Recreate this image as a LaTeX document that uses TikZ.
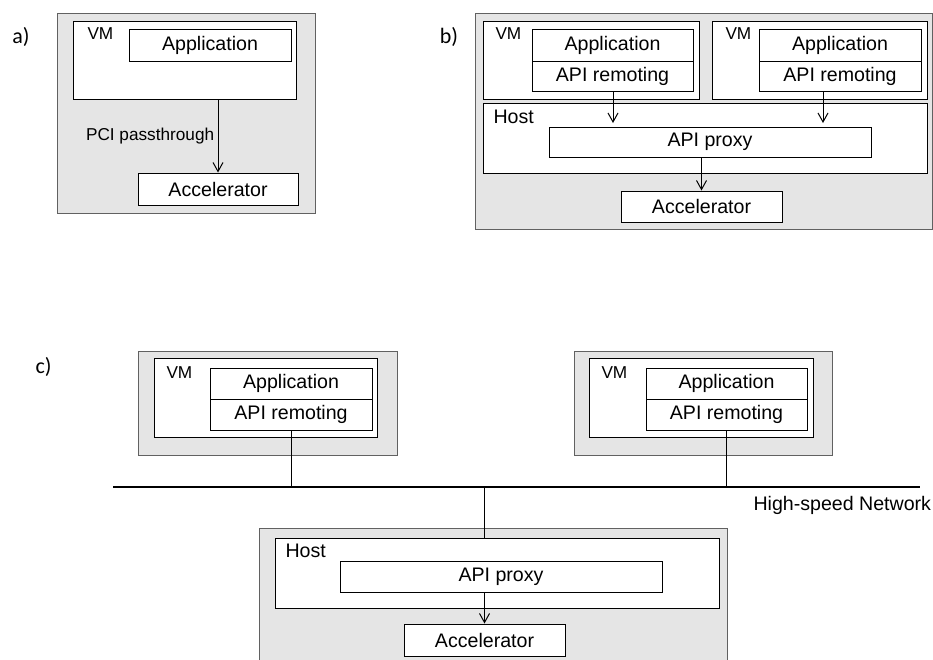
\documentclass[tikz,border=0pt]{standalone}
\usepackage{fontspec}
\setmainfont{Liberation Sans}
\newfontfamily\calibri{Carlito}
\usetikzlibrary{arrows.meta}

\tikzset{
    shade/.style={draw=black!62, fill=black!10, inner sep=0pt},
    box/.style={draw, fill=white, inner sep=0pt},
    tag/.style={inner sep=0pt, anchor=base west},
    small/.style={font=\fontsize{17.2}{21}\selectfont},
    part/.style={font=\calibri\fontsize{22}{26}\selectfont}
}

\begin{document}
\begin{tikzpicture}[x=1pt,y=-1pt,line width=1pt,
        font=\fontsize{19.6}{23}\selectfont,
        >={Straight Barb[length=9pt,width=10pt]}]

        \useasboundingbox (0,0) rectangle (933,659);

        % a)
        \node[part] (la) at (21,37) {a)};
        \node[shade, minimum width=258pt, minimum height=200pt] (GA) at (186,113) {};
        \node[box, minimum width=223pt, minimum height=78pt] (VMa) at (184.5,60) {};
        \node[tag, small] (vma) at (87,39) {VM};
        \node[box, minimum width=162pt, minimum height=32pt] (appa) at (210,45) {Application};
        \node[box, minimum width=160pt, minimum height=32pt] (acca) at (218,189) {Accelerator};
        \draw[->] (acca.north |- VMa.south) -- (acca.north) node [midway, left, small] (pci) {PCI passthrough};

        % b)
        \node[part] (lb) at (449,37) {b)};
        \node[shade, minimum width=457pt, minimum height=216pt] (GB) at (703.5,121) {};
        \node[box, minimum width=216pt, minimum height=78pt] (VMb1) at (591,60) {};
        \node[tag, small] (vmb1) at (495,39) {VM};
        \node[box, minimum width=161pt, minimum height=32pt] (appb1) at (612.5,45) {Application};
        \node[box, minimum width=161pt, minimum height=30pt] (apirb1) at (612.5,76) {API remoting};
        \node[box, minimum width=215pt, minimum height=78pt] (VMb2) at (819.5,60) {};
        \node[tag, small] (vmb2) at (725,39) {VM};
        \node[box, minimum width=162pt, minimum height=32pt] (appb2) at (840,45) {Application};
        \node[box, minimum width=162pt, minimum height=30pt] (apirb2) at (840,76) {API remoting};
        \node[box, minimum width=444pt, minimum height=70pt] (hostb) at (705,138) {};
        \node[tag] (hb) at (493,123) {Host};
        \node[box, minimum width=322pt, minimum height=30pt] (proxyb) at (710,142) {API proxy};
        \node[box, minimum width=161pt, minimum height=31pt] (accb) at (701.5,206.5) {Accelerator};
        \coordinate (tb1) at (613,123);
        \coordinate (tb2) at (823,123);

        \draw[->] (apirb1.south -| tb1) -- (tb1);
        \draw[->] (apirb2.south -| tb2) -- (tb2);
        \draw[->] (accb.north |- proxyb.south) -- (accb.north);

        % c)
        \node[part] (lc) at (43.5,367) {c)};
        \node[shade, minimum width=259pt, minimum height=104pt] (GC1) at (267.5,403) {};
        \node[box, minimum width=223pt, minimum height=79pt] (VMc1) at (265.5,397.5) {};
        \node[tag, small] (vmc1) at (166,378) {VM};
        \node[box, minimum width=162pt, minimum height=31pt] (appc1) at (291,383.5) {Application};
        \node[box, minimum width=162pt, minimum height=31pt] (apirc1) at (291,414.5) {API remoting};
        \node[shade, minimum width=258pt, minimum height=104pt] (GC2) at (703,403) {};
        \node[box, minimum width=224pt, minimum height=79pt] (VMc2) at (701,397.5) {};
        \node[tag, small] (vmc2) at (601,378) {VM};
        \node[box, minimum width=161pt, minimum height=31pt] (appc2) at (726.5,383.5) {Application};
        \node[box, minimum width=161pt, minimum height=31pt] (apirc2) at (726.5,414.5) {API remoting};

        \coordinate (netL) at (113,487);
        \coordinate (netR) at (920,487);
        \draw[line width=1.4pt] (netL) -- (netR);
        \node[anchor=west, inner sep=0pt] (net) at (753,505) {High-speed Network};
        \draw (apirc1.south) -- (apirc1.south |- netL);
        \draw (apirc2.south) -- (apirc2.south |- netL);

        \node[shade, minimum width=468pt, minimum height=142pt] (GH) at (493,599) {};
        \node[box, minimum width=444pt, minimum height=70pt] (hostc) at (497,573) {};
        \node[tag] (hc) at (285,557) {Host};
        \node[box, minimum width=322pt, minimum height=31pt] (proxyc) at (501,576.5) {API proxy};
        \node[box, minimum width=161pt, minimum height=32pt] (accc) at (484.5,640) {Accelerator};

        \draw (accc.north |- netL) -- (accc.north |- hostc.north);
        \draw[->] (accc.north |- proxyc.south) -- (accc.north);

    \end{tikzpicture}
\end{document}
